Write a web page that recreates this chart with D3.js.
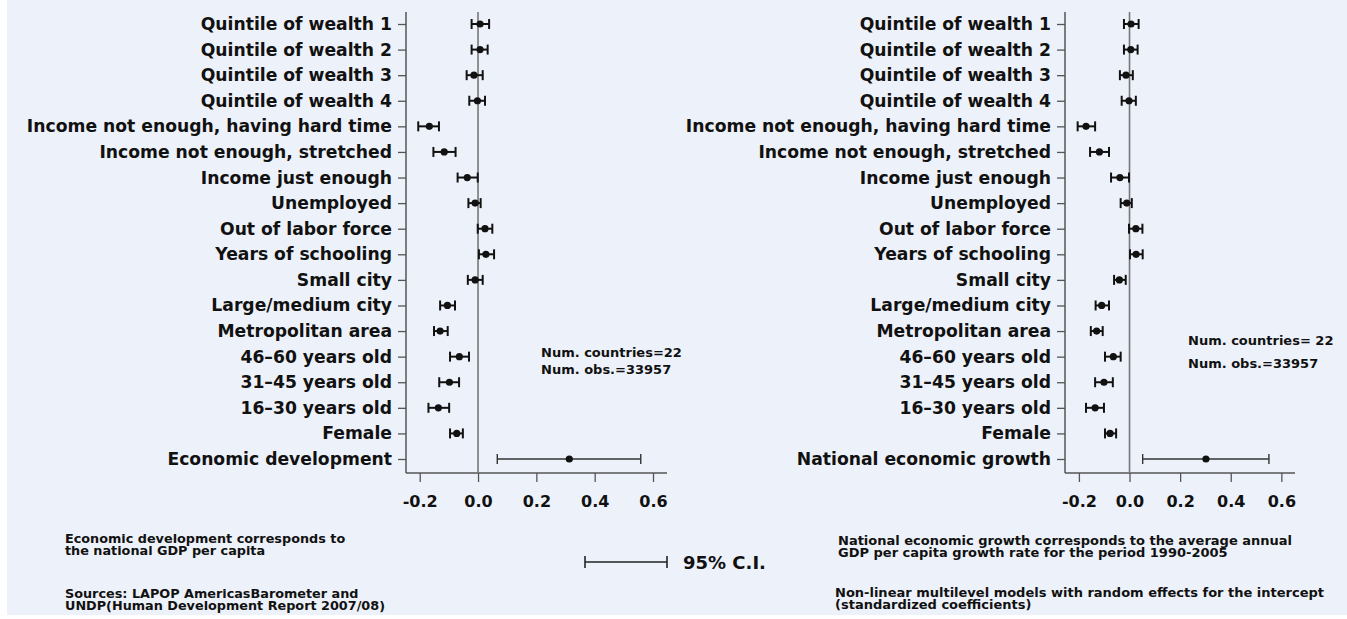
<!DOCTYPE html>
<html>
<head>
<meta charset="utf-8">
<script src="https://cdn.jsdelivr.net/npm/d3@7"></script>
<style>
  body { margin: 0; background: #ffffff; }
  svg text { font-family: "DejaVu Sans", Arial, sans-serif; font-weight: bold; fill: #111; }
</style>
</head>
<body>
<svg id="chart"></svg>
<script>
var width = 1347,
    height = 619;

// shared row labels (except the last one, which differs per panel)
var commonLabels = ["Quintile of wealth 1", "Quintile of wealth 2", "Quintile of wealth 3", "Quintile of wealth 4",
  "Income not enough, having hard time", "Income not enough, stretched", "Income just enough",
  "Unemployed", "Out of labor force", "Years of schooling", "Small city", "Large/medium city",
  "Metropolitan area", "46\u201360 years old", "31\u201345 years old", "16\u201330 years old", "Female"];

var leftLabels = commonLabels.concat(["Economic development"]);
var rightLabels = commonLabels.concat(["National economic growth"]);

// left model: coefficient, lower, upper
var leftCoef = [0.007, 0.007, -0.014, -0.002, -0.167, -0.116, -0.037, -0.010, 0.024, 0.027, -0.010, -0.105, -0.130, -0.064, -0.098, -0.136, -0.073, 0.313];
var leftLow  = [-0.022, -0.022, -0.039, -0.030, -0.205, -0.153, -0.070, -0.033, -0.001, 0.003, -0.035, -0.130, -0.151, -0.096, -0.133, -0.170, -0.096, 0.066];
var leftHigh = [0.038, 0.033, 0.016, 0.024, -0.134, -0.077, -0.001, 0.009, 0.049, 0.055, 0.016, -0.079, -0.104, -0.031, -0.065, -0.099, -0.052, 0.558];

// right model
var rightCoef = [0.006, 0.005, -0.014, -0.002, -0.172, -0.119, -0.038, -0.011, 0.025, 0.026, -0.040, -0.110, -0.130, -0.064, -0.101, -0.136, -0.077, 0.302];
var rightLow  = [-0.022, -0.022, -0.038, -0.031, -0.205, -0.156, -0.073, -0.035, -0.002, 0.002, -0.061, -0.134, -0.153, -0.097, -0.136, -0.172, -0.097, 0.052];
var rightHigh = [0.036, 0.032, 0.013, 0.025, -0.136, -0.081, -0.002, 0.009, 0.051, 0.052, -0.015, -0.081, -0.106, -0.035, -0.066, -0.101, -0.053, 0.551];

var xTicks = [-0.2, 0.0, 0.2, 0.4, 0.6];

var leftStats = ["Num. countries=22", "Num. obs.=33957"];
var rightStats = ["Num. countries= 22", "Num. obs.=33957"];

var leftNotes = [["Economic development corresponds to", "the national GDP per capita"],
                 ["Sources: LAPOP AmericasBarometer and", "UNDP(Human Development Report 2007/08)"]];
var rightNotes = [["National economic growth corresponds to the average annual", "GDP per capita growth rate for the period 1990-2005"],
                  ["Non-linear multilevel models with random effects for the intercept", "(standardized coefficients)"]];

var svg = d3.select("#chart")
  .attr("width", width)
  .attr("height", height);

svg.append("rect")
  .attr("x", 7).attr("y", 0)
  .attr("width", width - 7).attr("height", 615)
  .attr("fill", "#edf2fa");

var fmt = function(d) { return d3.format(".1f")(d).replace("\u2212", "-"); };

var drawPanel = function(p) {
  var g = svg.append("g");

  var x = d3.scaleLinear().domain(p.domain).range([p.left, p.right]);
  var y = d3.scalePoint().domain(p.labels).range([24, 459]);

  var rows = p.labels.map(function(l, i) {
    return { label: l, coef: p.coef[i], low: p.low[i], high: p.high[i], big: i == p.labels.length - 1 };
  });

  // y axis
  var yAxis = g.append("g")
    .attr("transform", "translate(" + p.left + ",0)")
    .call(d3.axisLeft(y).tickSize(8).tickPadding(6).tickSizeOuter(0));
  yAxis.select(".domain").remove();
  yAxis.selectAll(".tick line").attr("stroke", "#555").attr("stroke-width", 1.3);
  yAxis.selectAll(".tick text").attr("font-size", 17.2).attr("font-family", "DejaVu Sans").attr("fill", "#111");

  g.append("line")
    .attr("x1", p.left).attr("x2", p.left)
    .attr("y1", 12).attr("y2", 473)
    .attr("stroke", "#555").attr("stroke-width", 1.5);

  // x axis
  var xAxis = g.append("g")
    .attr("transform", "translate(0,473)")
    .call(d3.axisBottom(x).tickValues(xTicks).tickFormat(fmt).tickSize(9).tickPadding(14).tickSizeOuter(0));
  xAxis.select(".domain").remove();
  xAxis.selectAll(".tick line").attr("stroke", "#555").attr("stroke-width", 1.3);
  xAxis.selectAll(".tick text").attr("font-size", 16).attr("font-family", "DejaVu Sans").attr("fill", "#111");

  g.append("line")
    .attr("x1", p.left).attr("x2", p.right)
    .attr("y1", 473).attr("y2", 473)
    .attr("stroke", "#555").attr("stroke-width", 1.5);

  // zero line
  g.append("line")
    .attr("x1", x(0)).attr("x2", x(0))
    .attr("y1", 12).attr("y2", 473)
    .attr("stroke", "#777").attr("stroke-width", 1.6);

  // confidence intervals
  var bars = g.selectAll(".ci").data(rows).enter().append("g").attr("class", "ci");
  bars.append("line")
    .attr("x1", function(d) { return x(d.low); })
    .attr("x2", function(d) { return x(d.high); })
    .attr("y1", function(d) { return y(d.label); })
    .attr("y2", function(d) { return y(d.label); })
    .attr("stroke", function(d) { return d.big ? "#333" : "#111"; })
    .attr("stroke-width", function(d) { return d.big ? 1.4 : 2; });
  ["low", "high"].forEach(function(k) {
    bars.append("line")
      .attr("x1", function(d) { return x(d[k]); })
      .attr("x2", function(d) { return x(d[k]); })
      .attr("y1", function(d) { return y(d.label) - 5; })
      .attr("y2", function(d) { return y(d.label) + 5; })
      .attr("stroke", function(d) { return d.big ? "#333" : "#111"; })
      .attr("stroke-width", function(d) { return d.big ? 1.4 : 2; });
  });
  bars.append("circle")
    .attr("cx", function(d) { return x(d.coef); })
    .attr("cy", function(d) { return y(d.label); })
    .attr("r", 3.6)
    .attr("fill", "#111");

  // model stats
  g.selectAll(".stat").data(p.stats).enter().append("text")
    .attr("class", "stat")
    .attr("x", p.statX)
    .attr("y", function(d, i) { return p.statY[i]; })
    .attr("font-size", 13)
    .text(function(d) { return d; });

  // notes
  p.notes.forEach(function(block, b) {
    g.selectAll(".note" + b).data(block).enter().append("text")
      .attr("x", p.noteX[b])
      .attr("y", function(d, i) { return p.noteY[b] + i * 11.5; })
      .attr("font-size", p.noteSize)
      .text(function(d) { return d; });
  });
};

drawPanel({
  labels: leftLabels, coef: leftCoef, low: leftLow, high: leftHigh,
  domain: [-0.247, 0.648], left: 406, right: 667,
  stats: leftStats, statX: 541, statY: [357, 374],
  notes: leftNotes, noteX: [65, 65], noteY: [543, 598], noteSize: 12.8
});

drawPanel({
  labels: rightLabels, coef: rightCoef, low: rightLow, high: rightHigh,
  domain: [-0.255, 0.654], left: 1065, right: 1295,
  stats: rightStats, statX: 1188, statY: [345, 368],
  notes: rightNotes, noteX: [838, 835], noteY: [545, 597], noteSize: 13
});

// 95% C.I. legend
var legendX = d3.scaleLinear().domain([0, 1]).range([585, 667]);
var legend = svg.append("g");
legend.append("line")
  .attr("x1", legendX(0)).attr("x2", legendX(1))
  .attr("y1", 562).attr("y2", 562)
  .attr("stroke", "#222").attr("stroke-width", 1.6);
[0, 1].forEach(function(v) {
  legend.append("line")
    .attr("x1", legendX(v)).attr("x2", legendX(v))
    .attr("y1", 556).attr("y2", 568)
    .attr("stroke", "#222").attr("stroke-width", 1.6);
});
legend.append("text")
  .attr("x", 683).attr("y", 569)
  .attr("font-size", 18)
  .text("95% C.I.");
</script>
</body>
</html>
